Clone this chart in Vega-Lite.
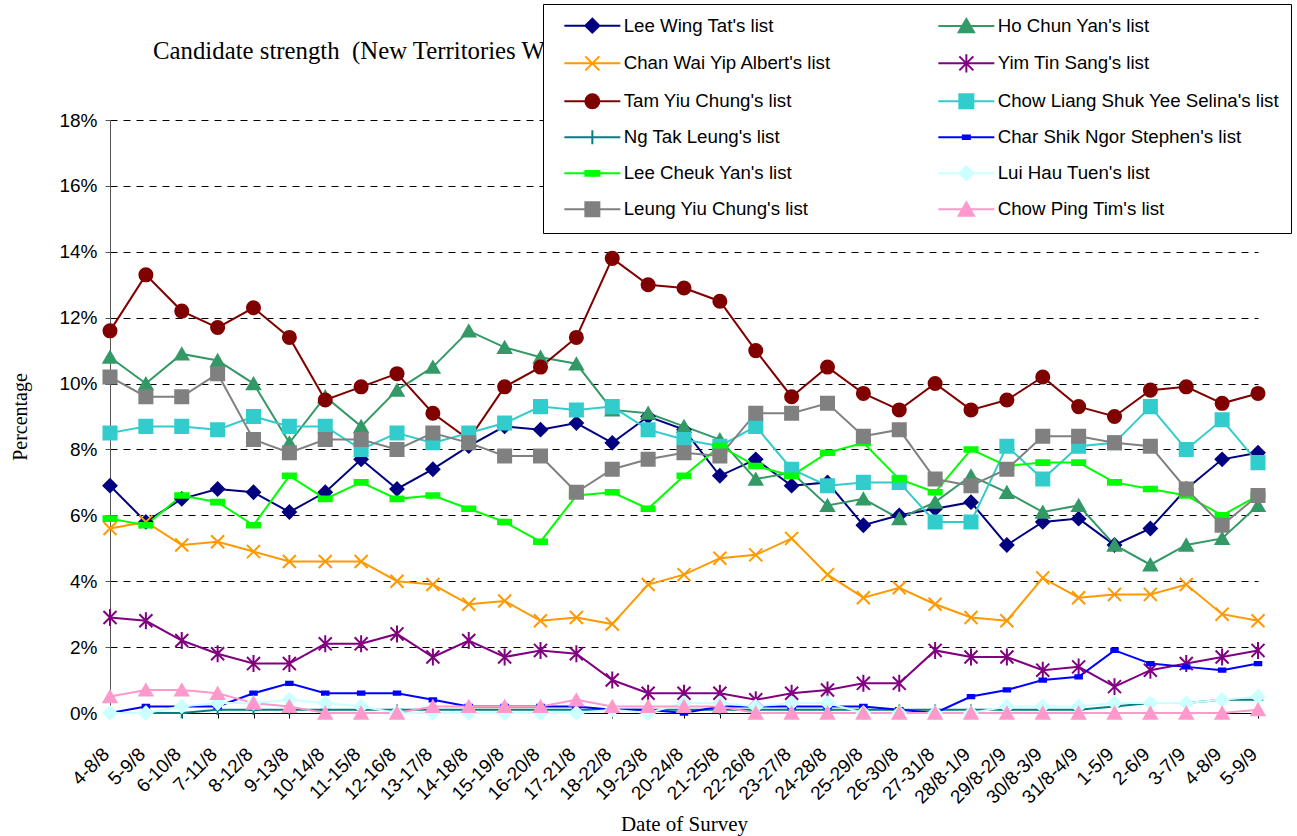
{
"$schema":"https://vega.github.io/schema/vega-lite/v6.json",
"autosize":{"type":"none"},
"width":1148,"height":593,
"padding":{"left":110,"top":120,"right":39,"bottom":123},
"background":"white",
"config":{"view":{"stroke":null}},
"title":{"text":"Candidate strength \u00a0(New Territories West)","anchor":"start","dx":43,"dy":64,"font":"Liberation Serif","fontSize":24.8,"fontWeight":"normal","color":"black","zindex":0,"frame":"group"},
"data":{"values":[
{"d":"4-8/8","s":"Lee Wing Tat's list","v":6.9},{"d":"5-9/8","s":"Lee Wing Tat's list","v":5.8},{"d":"6-10/8","s":"Lee Wing Tat's list","v":6.5},{"d":"7-11/8","s":"Lee Wing Tat's list","v":6.8},{"d":"8-12/8","s":"Lee Wing Tat's list","v":6.7},{"d":"9-13/8","s":"Lee Wing Tat's list","v":6.1},{"d":"10-14/8","s":"Lee Wing Tat's list","v":6.7},{"d":"11-15/8","s":"Lee Wing Tat's list","v":7.7},{"d":"12-16/8","s":"Lee Wing Tat's list","v":6.8},{"d":"13-17/8","s":"Lee Wing Tat's list","v":7.4},{"d":"14-18/8","s":"Lee Wing Tat's list","v":8.1},{"d":"15-19/8","s":"Lee Wing Tat's list","v":8.7},{"d":"16-20/8","s":"Lee Wing Tat's list","v":8.6},{"d":"17-21/8","s":"Lee Wing Tat's list","v":8.8},{"d":"18-22/8","s":"Lee Wing Tat's list","v":8.2},{"d":"19-23/8","s":"Lee Wing Tat's list","v":9.0},{"d":"20-24/8","s":"Lee Wing Tat's list","v":8.6},{"d":"21-25/8","s":"Lee Wing Tat's list","v":7.2},{"d":"22-26/8","s":"Lee Wing Tat's list","v":7.7},{"d":"23-27/8","s":"Lee Wing Tat's list","v":6.9},{"d":"24-28/8","s":"Lee Wing Tat's list","v":7.0},{"d":"25-29/8","s":"Lee Wing Tat's list","v":5.7},{"d":"26-30/8","s":"Lee Wing Tat's list","v":6.0},{"d":"27-31/8","s":"Lee Wing Tat's list","v":6.2},{"d":"28/8-1/9","s":"Lee Wing Tat's list","v":6.4},{"d":"29/8-2/9","s":"Lee Wing Tat's list","v":5.1},{"d":"30/8-3/9","s":"Lee Wing Tat's list","v":5.8},{"d":"31/8-4/9","s":"Lee Wing Tat's list","v":5.9},{"d":"1-5/9","s":"Lee Wing Tat's list","v":5.1},{"d":"2-6/9","s":"Lee Wing Tat's list","v":5.6},{"d":"3-7/9","s":"Lee Wing Tat's list","v":6.8},{"d":"4-8/9","s":"Lee Wing Tat's list","v":7.7},{"d":"5-9/9","s":"Lee Wing Tat's list","v":7.9},
{"d":"4-8/8","s":"Ho Chun Yan's list","v":10.8},{"d":"5-9/8","s":"Ho Chun Yan's list","v":10.0},{"d":"6-10/8","s":"Ho Chun Yan's list","v":10.9},{"d":"7-11/8","s":"Ho Chun Yan's list","v":10.7},{"d":"8-12/8","s":"Ho Chun Yan's list","v":10.0},{"d":"9-13/8","s":"Ho Chun Yan's list","v":8.2},{"d":"10-14/8","s":"Ho Chun Yan's list","v":9.6},{"d":"11-15/8","s":"Ho Chun Yan's list","v":8.7},{"d":"12-16/8","s":"Ho Chun Yan's list","v":9.8},{"d":"13-17/8","s":"Ho Chun Yan's list","v":10.5},{"d":"14-18/8","s":"Ho Chun Yan's list","v":11.6},{"d":"15-19/8","s":"Ho Chun Yan's list","v":11.1},{"d":"16-20/8","s":"Ho Chun Yan's list","v":10.8},{"d":"17-21/8","s":"Ho Chun Yan's list","v":10.6},{"d":"18-22/8","s":"Ho Chun Yan's list","v":9.2},{"d":"19-23/8","s":"Ho Chun Yan's list","v":9.1},{"d":"20-24/8","s":"Ho Chun Yan's list","v":8.7},{"d":"21-25/8","s":"Ho Chun Yan's list","v":8.3},{"d":"22-26/8","s":"Ho Chun Yan's list","v":7.1},{"d":"23-27/8","s":"Ho Chun Yan's list","v":7.3},{"d":"24-28/8","s":"Ho Chun Yan's list","v":6.3},{"d":"25-29/8","s":"Ho Chun Yan's list","v":6.5},{"d":"26-30/8","s":"Ho Chun Yan's list","v":5.9},{"d":"27-31/8","s":"Ho Chun Yan's list","v":6.4},{"d":"28/8-1/9","s":"Ho Chun Yan's list","v":7.2},{"d":"29/8-2/9","s":"Ho Chun Yan's list","v":6.7},{"d":"30/8-3/9","s":"Ho Chun Yan's list","v":6.1},{"d":"31/8-4/9","s":"Ho Chun Yan's list","v":6.3},{"d":"1-5/9","s":"Ho Chun Yan's list","v":5.1},{"d":"2-6/9","s":"Ho Chun Yan's list","v":4.5},{"d":"3-7/9","s":"Ho Chun Yan's list","v":5.1},{"d":"4-8/9","s":"Ho Chun Yan's list","v":5.3},{"d":"5-9/9","s":"Ho Chun Yan's list","v":6.3},
{"d":"4-8/8","s":"Chan Wai Yip Albert's list","v":5.6},{"d":"5-9/8","s":"Chan Wai Yip Albert's list","v":5.8},{"d":"6-10/8","s":"Chan Wai Yip Albert's list","v":5.1},{"d":"7-11/8","s":"Chan Wai Yip Albert's list","v":5.2},{"d":"8-12/8","s":"Chan Wai Yip Albert's list","v":4.9},{"d":"9-13/8","s":"Chan Wai Yip Albert's list","v":4.6},{"d":"10-14/8","s":"Chan Wai Yip Albert's list","v":4.6},{"d":"11-15/8","s":"Chan Wai Yip Albert's list","v":4.6},{"d":"12-16/8","s":"Chan Wai Yip Albert's list","v":4.0},{"d":"13-17/8","s":"Chan Wai Yip Albert's list","v":3.9},{"d":"14-18/8","s":"Chan Wai Yip Albert's list","v":3.3},{"d":"15-19/8","s":"Chan Wai Yip Albert's list","v":3.4},{"d":"16-20/8","s":"Chan Wai Yip Albert's list","v":2.8},{"d":"17-21/8","s":"Chan Wai Yip Albert's list","v":2.9},{"d":"18-22/8","s":"Chan Wai Yip Albert's list","v":2.7},{"d":"19-23/8","s":"Chan Wai Yip Albert's list","v":3.9},{"d":"20-24/8","s":"Chan Wai Yip Albert's list","v":4.2},{"d":"21-25/8","s":"Chan Wai Yip Albert's list","v":4.7},{"d":"22-26/8","s":"Chan Wai Yip Albert's list","v":4.8},{"d":"23-27/8","s":"Chan Wai Yip Albert's list","v":5.3},{"d":"24-28/8","s":"Chan Wai Yip Albert's list","v":4.2},{"d":"25-29/8","s":"Chan Wai Yip Albert's list","v":3.5},{"d":"26-30/8","s":"Chan Wai Yip Albert's list","v":3.8},{"d":"27-31/8","s":"Chan Wai Yip Albert's list","v":3.3},{"d":"28/8-1/9","s":"Chan Wai Yip Albert's list","v":2.9},{"d":"29/8-2/9","s":"Chan Wai Yip Albert's list","v":2.8},{"d":"30/8-3/9","s":"Chan Wai Yip Albert's list","v":4.1},{"d":"31/8-4/9","s":"Chan Wai Yip Albert's list","v":3.5},{"d":"1-5/9","s":"Chan Wai Yip Albert's list","v":3.6},{"d":"2-6/9","s":"Chan Wai Yip Albert's list","v":3.6},{"d":"3-7/9","s":"Chan Wai Yip Albert's list","v":3.9},{"d":"4-8/9","s":"Chan Wai Yip Albert's list","v":3.0},{"d":"5-9/9","s":"Chan Wai Yip Albert's list","v":2.8},
{"d":"4-8/8","s":"Yim Tin Sang's list","v":2.9},{"d":"5-9/8","s":"Yim Tin Sang's list","v":2.8},{"d":"6-10/8","s":"Yim Tin Sang's list","v":2.2},{"d":"7-11/8","s":"Yim Tin Sang's list","v":1.8},{"d":"8-12/8","s":"Yim Tin Sang's list","v":1.5},{"d":"9-13/8","s":"Yim Tin Sang's list","v":1.5},{"d":"10-14/8","s":"Yim Tin Sang's list","v":2.1},{"d":"11-15/8","s":"Yim Tin Sang's list","v":2.1},{"d":"12-16/8","s":"Yim Tin Sang's list","v":2.4},{"d":"13-17/8","s":"Yim Tin Sang's list","v":1.7},{"d":"14-18/8","s":"Yim Tin Sang's list","v":2.2},{"d":"15-19/8","s":"Yim Tin Sang's list","v":1.7},{"d":"16-20/8","s":"Yim Tin Sang's list","v":1.9},{"d":"17-21/8","s":"Yim Tin Sang's list","v":1.8},{"d":"18-22/8","s":"Yim Tin Sang's list","v":1.0},{"d":"19-23/8","s":"Yim Tin Sang's list","v":0.6},{"d":"20-24/8","s":"Yim Tin Sang's list","v":0.6},{"d":"21-25/8","s":"Yim Tin Sang's list","v":0.6},{"d":"22-26/8","s":"Yim Tin Sang's list","v":0.4},{"d":"23-27/8","s":"Yim Tin Sang's list","v":0.6},{"d":"24-28/8","s":"Yim Tin Sang's list","v":0.7},{"d":"25-29/8","s":"Yim Tin Sang's list","v":0.9},{"d":"26-30/8","s":"Yim Tin Sang's list","v":0.9},{"d":"27-31/8","s":"Yim Tin Sang's list","v":1.9},{"d":"28/8-1/9","s":"Yim Tin Sang's list","v":1.7},{"d":"29/8-2/9","s":"Yim Tin Sang's list","v":1.7},{"d":"30/8-3/9","s":"Yim Tin Sang's list","v":1.3},{"d":"31/8-4/9","s":"Yim Tin Sang's list","v":1.4},{"d":"1-5/9","s":"Yim Tin Sang's list","v":0.8},{"d":"2-6/9","s":"Yim Tin Sang's list","v":1.3},{"d":"3-7/9","s":"Yim Tin Sang's list","v":1.5},{"d":"4-8/9","s":"Yim Tin Sang's list","v":1.7},{"d":"5-9/9","s":"Yim Tin Sang's list","v":1.9},
{"d":"4-8/8","s":"Tam Yiu Chung's list","v":11.6},{"d":"5-9/8","s":"Tam Yiu Chung's list","v":13.3},{"d":"6-10/8","s":"Tam Yiu Chung's list","v":12.2},{"d":"7-11/8","s":"Tam Yiu Chung's list","v":11.7},{"d":"8-12/8","s":"Tam Yiu Chung's list","v":12.3},{"d":"9-13/8","s":"Tam Yiu Chung's list","v":11.4},{"d":"10-14/8","s":"Tam Yiu Chung's list","v":9.5},{"d":"11-15/8","s":"Tam Yiu Chung's list","v":9.9},{"d":"12-16/8","s":"Tam Yiu Chung's list","v":10.3},{"d":"13-17/8","s":"Tam Yiu Chung's list","v":9.1},{"d":"14-18/8","s":"Tam Yiu Chung's list","v":8.3},{"d":"15-19/8","s":"Tam Yiu Chung's list","v":9.9},{"d":"16-20/8","s":"Tam Yiu Chung's list","v":10.5},{"d":"17-21/8","s":"Tam Yiu Chung's list","v":11.4},{"d":"18-22/8","s":"Tam Yiu Chung's list","v":13.8},{"d":"19-23/8","s":"Tam Yiu Chung's list","v":13.0},{"d":"20-24/8","s":"Tam Yiu Chung's list","v":12.9},{"d":"21-25/8","s":"Tam Yiu Chung's list","v":12.5},{"d":"22-26/8","s":"Tam Yiu Chung's list","v":11.0},{"d":"23-27/8","s":"Tam Yiu Chung's list","v":9.6},{"d":"24-28/8","s":"Tam Yiu Chung's list","v":10.5},{"d":"25-29/8","s":"Tam Yiu Chung's list","v":9.7},{"d":"26-30/8","s":"Tam Yiu Chung's list","v":9.2},{"d":"27-31/8","s":"Tam Yiu Chung's list","v":10.0},{"d":"28/8-1/9","s":"Tam Yiu Chung's list","v":9.2},{"d":"29/8-2/9","s":"Tam Yiu Chung's list","v":9.5},{"d":"30/8-3/9","s":"Tam Yiu Chung's list","v":10.2},{"d":"31/8-4/9","s":"Tam Yiu Chung's list","v":9.3},{"d":"1-5/9","s":"Tam Yiu Chung's list","v":9.0},{"d":"2-6/9","s":"Tam Yiu Chung's list","v":9.8},{"d":"3-7/9","s":"Tam Yiu Chung's list","v":9.9},{"d":"4-8/9","s":"Tam Yiu Chung's list","v":9.4},{"d":"5-9/9","s":"Tam Yiu Chung's list","v":9.7},
{"d":"4-8/8","s":"Chow Liang Shuk Yee Selina's list","v":8.5},{"d":"5-9/8","s":"Chow Liang Shuk Yee Selina's list","v":8.7},{"d":"6-10/8","s":"Chow Liang Shuk Yee Selina's list","v":8.7},{"d":"7-11/8","s":"Chow Liang Shuk Yee Selina's list","v":8.6},{"d":"8-12/8","s":"Chow Liang Shuk Yee Selina's list","v":9.0},{"d":"9-13/8","s":"Chow Liang Shuk Yee Selina's list","v":8.7},{"d":"10-14/8","s":"Chow Liang Shuk Yee Selina's list","v":8.7},{"d":"11-15/8","s":"Chow Liang Shuk Yee Selina's list","v":8.0},{"d":"12-16/8","s":"Chow Liang Shuk Yee Selina's list","v":8.5},{"d":"13-17/8","s":"Chow Liang Shuk Yee Selina's list","v":8.2},{"d":"14-18/8","s":"Chow Liang Shuk Yee Selina's list","v":8.5},{"d":"15-19/8","s":"Chow Liang Shuk Yee Selina's list","v":8.8},{"d":"16-20/8","s":"Chow Liang Shuk Yee Selina's list","v":9.3},{"d":"17-21/8","s":"Chow Liang Shuk Yee Selina's list","v":9.2},{"d":"18-22/8","s":"Chow Liang Shuk Yee Selina's list","v":9.3},{"d":"19-23/8","s":"Chow Liang Shuk Yee Selina's list","v":8.6},{"d":"20-24/8","s":"Chow Liang Shuk Yee Selina's list","v":8.3},{"d":"21-25/8","s":"Chow Liang Shuk Yee Selina's list","v":8.1},{"d":"22-26/8","s":"Chow Liang Shuk Yee Selina's list","v":8.7},{"d":"23-27/8","s":"Chow Liang Shuk Yee Selina's list","v":7.4},{"d":"24-28/8","s":"Chow Liang Shuk Yee Selina's list","v":6.9},{"d":"25-29/8","s":"Chow Liang Shuk Yee Selina's list","v":7.0},{"d":"26-30/8","s":"Chow Liang Shuk Yee Selina's list","v":7.0},{"d":"27-31/8","s":"Chow Liang Shuk Yee Selina's list","v":5.8},{"d":"28/8-1/9","s":"Chow Liang Shuk Yee Selina's list","v":5.8},{"d":"29/8-2/9","s":"Chow Liang Shuk Yee Selina's list","v":8.1},{"d":"30/8-3/9","s":"Chow Liang Shuk Yee Selina's list","v":7.1},{"d":"31/8-4/9","s":"Chow Liang Shuk Yee Selina's list","v":8.1},{"d":"1-5/9","s":"Chow Liang Shuk Yee Selina's list","v":8.2},{"d":"2-6/9","s":"Chow Liang Shuk Yee Selina's list","v":9.3},{"d":"3-7/9","s":"Chow Liang Shuk Yee Selina's list","v":8.0},{"d":"4-8/9","s":"Chow Liang Shuk Yee Selina's list","v":8.9},{"d":"5-9/9","s":"Chow Liang Shuk Yee Selina's list","v":7.6},
{"d":"4-8/8","s":"Ng Tak Leung's list","v":0},{"d":"5-9/8","s":"Ng Tak Leung's list","v":0},{"d":"6-10/8","s":"Ng Tak Leung's list","v":0},{"d":"7-11/8","s":"Ng Tak Leung's list","v":0.1},{"d":"8-12/8","s":"Ng Tak Leung's list","v":0.1},{"d":"9-13/8","s":"Ng Tak Leung's list","v":0.1},{"d":"10-14/8","s":"Ng Tak Leung's list","v":0.1},{"d":"11-15/8","s":"Ng Tak Leung's list","v":0.1},{"d":"12-16/8","s":"Ng Tak Leung's list","v":0.1},{"d":"13-17/8","s":"Ng Tak Leung's list","v":0.1},{"d":"14-18/8","s":"Ng Tak Leung's list","v":0.1},{"d":"15-19/8","s":"Ng Tak Leung's list","v":0.1},{"d":"16-20/8","s":"Ng Tak Leung's list","v":0.1},{"d":"17-21/8","s":"Ng Tak Leung's list","v":0.1},{"d":"18-22/8","s":"Ng Tak Leung's list","v":0.1},{"d":"19-23/8","s":"Ng Tak Leung's list","v":0.1},{"d":"20-24/8","s":"Ng Tak Leung's list","v":0.1},{"d":"21-25/8","s":"Ng Tak Leung's list","v":0.1},{"d":"22-26/8","s":"Ng Tak Leung's list","v":0.1},{"d":"23-27/8","s":"Ng Tak Leung's list","v":0.1},{"d":"24-28/8","s":"Ng Tak Leung's list","v":0.1},{"d":"25-29/8","s":"Ng Tak Leung's list","v":0.1},{"d":"26-30/8","s":"Ng Tak Leung's list","v":0.1},{"d":"27-31/8","s":"Ng Tak Leung's list","v":0.1},{"d":"28/8-1/9","s":"Ng Tak Leung's list","v":0.1},{"d":"29/8-2/9","s":"Ng Tak Leung's list","v":0.1},{"d":"30/8-3/9","s":"Ng Tak Leung's list","v":0.1},{"d":"31/8-4/9","s":"Ng Tak Leung's list","v":0.1},{"d":"1-5/9","s":"Ng Tak Leung's list","v":0.2},{"d":"2-6/9","s":"Ng Tak Leung's list","v":0.3},{"d":"3-7/9","s":"Ng Tak Leung's list","v":0.3},{"d":"4-8/9","s":"Ng Tak Leung's list","v":0.4},{"d":"5-9/9","s":"Ng Tak Leung's list","v":0.4},
{"d":"4-8/8","s":"Char Shik Ngor Stephen's list","v":0},{"d":"5-9/8","s":"Char Shik Ngor Stephen's list","v":0.2},{"d":"6-10/8","s":"Char Shik Ngor Stephen's list","v":0.2},{"d":"7-11/8","s":"Char Shik Ngor Stephen's list","v":0.2},{"d":"8-12/8","s":"Char Shik Ngor Stephen's list","v":0.6},{"d":"9-13/8","s":"Char Shik Ngor Stephen's list","v":0.9},{"d":"10-14/8","s":"Char Shik Ngor Stephen's list","v":0.6},{"d":"11-15/8","s":"Char Shik Ngor Stephen's list","v":0.6},{"d":"12-16/8","s":"Char Shik Ngor Stephen's list","v":0.6},{"d":"13-17/8","s":"Char Shik Ngor Stephen's list","v":0.4},{"d":"14-18/8","s":"Char Shik Ngor Stephen's list","v":0.2},{"d":"15-19/8","s":"Char Shik Ngor Stephen's list","v":0.2},{"d":"16-20/8","s":"Char Shik Ngor Stephen's list","v":0.2},{"d":"17-21/8","s":"Char Shik Ngor Stephen's list","v":0.2},{"d":"18-22/8","s":"Char Shik Ngor Stephen's list","v":0.1},{"d":"19-23/8","s":"Char Shik Ngor Stephen's list","v":0.1},{"d":"20-24/8","s":"Char Shik Ngor Stephen's list","v":0},{"d":"21-25/8","s":"Char Shik Ngor Stephen's list","v":0.2},{"d":"22-26/8","s":"Char Shik Ngor Stephen's list","v":0.2},{"d":"23-27/8","s":"Char Shik Ngor Stephen's list","v":0.2},{"d":"24-28/8","s":"Char Shik Ngor Stephen's list","v":0.2},{"d":"25-29/8","s":"Char Shik Ngor Stephen's list","v":0.2},{"d":"26-30/8","s":"Char Shik Ngor Stephen's list","v":0.1},{"d":"27-31/8","s":"Char Shik Ngor Stephen's list","v":0},{"d":"28/8-1/9","s":"Char Shik Ngor Stephen's list","v":0.5},{"d":"29/8-2/9","s":"Char Shik Ngor Stephen's list","v":0.7},{"d":"30/8-3/9","s":"Char Shik Ngor Stephen's list","v":1.0},{"d":"31/8-4/9","s":"Char Shik Ngor Stephen's list","v":1.1},{"d":"1-5/9","s":"Char Shik Ngor Stephen's list","v":1.9},{"d":"2-6/9","s":"Char Shik Ngor Stephen's list","v":1.5},{"d":"3-7/9","s":"Char Shik Ngor Stephen's list","v":1.4},{"d":"4-8/9","s":"Char Shik Ngor Stephen's list","v":1.3},{"d":"5-9/9","s":"Char Shik Ngor Stephen's list","v":1.5},
{"d":"4-8/8","s":"Lee Cheuk Yan's list","v":5.9},{"d":"5-9/8","s":"Lee Cheuk Yan's list","v":5.7},{"d":"6-10/8","s":"Lee Cheuk Yan's list","v":6.6},{"d":"7-11/8","s":"Lee Cheuk Yan's list","v":6.4},{"d":"8-12/8","s":"Lee Cheuk Yan's list","v":5.7},{"d":"9-13/8","s":"Lee Cheuk Yan's list","v":7.2},{"d":"10-14/8","s":"Lee Cheuk Yan's list","v":6.5},{"d":"11-15/8","s":"Lee Cheuk Yan's list","v":7.0},{"d":"12-16/8","s":"Lee Cheuk Yan's list","v":6.5},{"d":"13-17/8","s":"Lee Cheuk Yan's list","v":6.6},{"d":"14-18/8","s":"Lee Cheuk Yan's list","v":6.2},{"d":"15-19/8","s":"Lee Cheuk Yan's list","v":5.8},{"d":"16-20/8","s":"Lee Cheuk Yan's list","v":5.2},{"d":"17-21/8","s":"Lee Cheuk Yan's list","v":6.6},{"d":"18-22/8","s":"Lee Cheuk Yan's list","v":6.7},{"d":"19-23/8","s":"Lee Cheuk Yan's list","v":6.2},{"d":"20-24/8","s":"Lee Cheuk Yan's list","v":7.2},{"d":"21-25/8","s":"Lee Cheuk Yan's list","v":8.1},{"d":"22-26/8","s":"Lee Cheuk Yan's list","v":7.5},{"d":"23-27/8","s":"Lee Cheuk Yan's list","v":7.2},{"d":"24-28/8","s":"Lee Cheuk Yan's list","v":7.9},{"d":"25-29/8","s":"Lee Cheuk Yan's list","v":8.2},{"d":"26-30/8","s":"Lee Cheuk Yan's list","v":7.1},{"d":"27-31/8","s":"Lee Cheuk Yan's list","v":6.7},{"d":"28/8-1/9","s":"Lee Cheuk Yan's list","v":8.0},{"d":"29/8-2/9","s":"Lee Cheuk Yan's list","v":7.5},{"d":"30/8-3/9","s":"Lee Cheuk Yan's list","v":7.6},{"d":"31/8-4/9","s":"Lee Cheuk Yan's list","v":7.6},{"d":"1-5/9","s":"Lee Cheuk Yan's list","v":7.0},{"d":"2-6/9","s":"Lee Cheuk Yan's list","v":6.8},{"d":"3-7/9","s":"Lee Cheuk Yan's list","v":6.6},{"d":"4-8/9","s":"Lee Cheuk Yan's list","v":6.0},{"d":"5-9/9","s":"Lee Cheuk Yan's list","v":6.6},
{"d":"4-8/8","s":"Lui Hau Tuen's list","v":0},{"d":"5-9/8","s":"Lui Hau Tuen's list","v":0},{"d":"6-10/8","s":"Lui Hau Tuen's list","v":0.2},{"d":"7-11/8","s":"Lui Hau Tuen's list","v":0.3},{"d":"8-12/8","s":"Lui Hau Tuen's list","v":0.3},{"d":"9-13/8","s":"Lui Hau Tuen's list","v":0.4},{"d":"10-14/8","s":"Lui Hau Tuen's list","v":0.3},{"d":"11-15/8","s":"Lui Hau Tuen's list","v":0.2},{"d":"12-16/8","s":"Lui Hau Tuen's list","v":0},{"d":"13-17/8","s":"Lui Hau Tuen's list","v":0},{"d":"14-18/8","s":"Lui Hau Tuen's list","v":0},{"d":"15-19/8","s":"Lui Hau Tuen's list","v":0},{"d":"16-20/8","s":"Lui Hau Tuen's list","v":0},{"d":"17-21/8","s":"Lui Hau Tuen's list","v":0},{"d":"18-22/8","s":"Lui Hau Tuen's list","v":0.1},{"d":"19-23/8","s":"Lui Hau Tuen's list","v":0},{"d":"20-24/8","s":"Lui Hau Tuen's list","v":0.3},{"d":"21-25/8","s":"Lui Hau Tuen's list","v":0.3},{"d":"22-26/8","s":"Lui Hau Tuen's list","v":0.2},{"d":"23-27/8","s":"Lui Hau Tuen's list","v":0.3},{"d":"24-28/8","s":"Lui Hau Tuen's list","v":0.3},{"d":"25-29/8","s":"Lui Hau Tuen's list","v":0},{"d":"26-30/8","s":"Lui Hau Tuen's list","v":0},{"d":"27-31/8","s":"Lui Hau Tuen's list","v":0},{"d":"28/8-1/9","s":"Lui Hau Tuen's list","v":0},{"d":"29/8-2/9","s":"Lui Hau Tuen's list","v":0.2},{"d":"30/8-3/9","s":"Lui Hau Tuen's list","v":0.2},{"d":"31/8-4/9","s":"Lui Hau Tuen's list","v":0.2},{"d":"1-5/9","s":"Lui Hau Tuen's list","v":0.3},{"d":"2-6/9","s":"Lui Hau Tuen's list","v":0.3},{"d":"3-7/9","s":"Lui Hau Tuen's list","v":0.3},{"d":"4-8/9","s":"Lui Hau Tuen's list","v":0.4},{"d":"5-9/9","s":"Lui Hau Tuen's list","v":0.5},
{"d":"4-8/8","s":"Leung Yiu Chung's list","v":10.2},{"d":"5-9/8","s":"Leung Yiu Chung's list","v":9.6},{"d":"6-10/8","s":"Leung Yiu Chung's list","v":9.6},{"d":"7-11/8","s":"Leung Yiu Chung's list","v":10.3},{"d":"8-12/8","s":"Leung Yiu Chung's list","v":8.3},{"d":"9-13/8","s":"Leung Yiu Chung's list","v":7.9},{"d":"10-14/8","s":"Leung Yiu Chung's list","v":8.3},{"d":"11-15/8","s":"Leung Yiu Chung's list","v":8.3},{"d":"12-16/8","s":"Leung Yiu Chung's list","v":8.0},{"d":"13-17/8","s":"Leung Yiu Chung's list","v":8.5},{"d":"14-18/8","s":"Leung Yiu Chung's list","v":8.2},{"d":"15-19/8","s":"Leung Yiu Chung's list","v":7.8},{"d":"16-20/8","s":"Leung Yiu Chung's list","v":7.8},{"d":"17-21/8","s":"Leung Yiu Chung's list","v":6.7},{"d":"18-22/8","s":"Leung Yiu Chung's list","v":7.4},{"d":"19-23/8","s":"Leung Yiu Chung's list","v":7.7},{"d":"20-24/8","s":"Leung Yiu Chung's list","v":7.9},{"d":"21-25/8","s":"Leung Yiu Chung's list","v":7.8},{"d":"22-26/8","s":"Leung Yiu Chung's list","v":9.1},{"d":"23-27/8","s":"Leung Yiu Chung's list","v":9.1},{"d":"24-28/8","s":"Leung Yiu Chung's list","v":9.4},{"d":"25-29/8","s":"Leung Yiu Chung's list","v":8.4},{"d":"26-30/8","s":"Leung Yiu Chung's list","v":8.6},{"d":"27-31/8","s":"Leung Yiu Chung's list","v":7.1},{"d":"28/8-1/9","s":"Leung Yiu Chung's list","v":6.9},{"d":"29/8-2/9","s":"Leung Yiu Chung's list","v":7.4},{"d":"30/8-3/9","s":"Leung Yiu Chung's list","v":8.4},{"d":"31/8-4/9","s":"Leung Yiu Chung's list","v":8.4},{"d":"1-5/9","s":"Leung Yiu Chung's list","v":8.2},{"d":"2-6/9","s":"Leung Yiu Chung's list","v":8.1},{"d":"3-7/9","s":"Leung Yiu Chung's list","v":6.8},{"d":"4-8/9","s":"Leung Yiu Chung's list","v":5.7},{"d":"5-9/9","s":"Leung Yiu Chung's list","v":6.6},
{"d":"4-8/8","s":"Chow Ping Tim's list","v":0.5},{"d":"5-9/8","s":"Chow Ping Tim's list","v":0.7},{"d":"6-10/8","s":"Chow Ping Tim's list","v":0.7},{"d":"7-11/8","s":"Chow Ping Tim's list","v":0.6},{"d":"8-12/8","s":"Chow Ping Tim's list","v":0.3},{"d":"9-13/8","s":"Chow Ping Tim's list","v":0.2},{"d":"10-14/8","s":"Chow Ping Tim's list","v":0},{"d":"11-15/8","s":"Chow Ping Tim's list","v":0},{"d":"12-16/8","s":"Chow Ping Tim's list","v":0},{"d":"13-17/8","s":"Chow Ping Tim's list","v":0.2},{"d":"14-18/8","s":"Chow Ping Tim's list","v":0.2},{"d":"15-19/8","s":"Chow Ping Tim's list","v":0.2},{"d":"16-20/8","s":"Chow Ping Tim's list","v":0.2},{"d":"17-21/8","s":"Chow Ping Tim's list","v":0.4},{"d":"18-22/8","s":"Chow Ping Tim's list","v":0.2},{"d":"19-23/8","s":"Chow Ping Tim's list","v":0.2},{"d":"20-24/8","s":"Chow Ping Tim's list","v":0.2},{"d":"21-25/8","s":"Chow Ping Tim's list","v":0.2},{"d":"22-26/8","s":"Chow Ping Tim's list","v":0},{"d":"23-27/8","s":"Chow Ping Tim's list","v":0},{"d":"24-28/8","s":"Chow Ping Tim's list","v":0},{"d":"25-29/8","s":"Chow Ping Tim's list","v":0},{"d":"26-30/8","s":"Chow Ping Tim's list","v":0},{"d":"27-31/8","s":"Chow Ping Tim's list","v":0},{"d":"28/8-1/9","s":"Chow Ping Tim's list","v":0},{"d":"29/8-2/9","s":"Chow Ping Tim's list","v":0},{"d":"30/8-3/9","s":"Chow Ping Tim's list","v":0},{"d":"31/8-4/9","s":"Chow Ping Tim's list","v":0},{"d":"1-5/9","s":"Chow Ping Tim's list","v":0},{"d":"2-6/9","s":"Chow Ping Tim's list","v":0},{"d":"3-7/9","s":"Chow Ping Tim's list","v":0},{"d":"4-8/9","s":"Chow Ping Tim's list","v":0},{"d":"5-9/9","s":"Chow Ping Tim's list","v":0.1}
]},
"encoding":{
"x":{"field":"d","type":"ordinal","scale":{"type":"point","padding":0,"domain":["4-8/8","5-9/8","6-10/8","7-11/8","8-12/8","9-13/8","10-14/8","11-15/8","12-16/8","13-17/8","14-18/8","15-19/8","16-20/8","17-21/8","18-22/8","19-23/8","20-24/8","21-25/8","22-26/8","23-27/8","24-28/8","25-29/8","26-30/8","27-31/8","28/8-1/9","29/8-2/9","30/8-3/9","31/8-4/9","1-5/9","2-6/9","3-7/9","4-8/9","5-9/9"]},
 "axis":{"title":"Date of Survey","titleFont":"Liberation Serif","titleFontSize":21,"titleFontWeight":"normal","titleColor":"black","titlePadding":6,"labelAngle":-45,"labelAlign":"right","labelBaseline":"alphabetic","labelFont":"Liberation Sans","labelFontSize":19,"labelColor":"black","labelPadding":37,"domainColor":"black","domainWidth":1,"tickColor":"black","tickSize":5,"grid":false}},
"y":{"field":"v","type":"quantitative","scale":{"domain":[0,18],"nice":false,"zero":true},
 "axis":{"title":"Percentage","titleFont":"Liberation Serif","titleFontSize":20,"titleFontWeight":"normal","titleColor":"black","titlePadding":28,"values":[0,2,4,6,8,10,12,14,16,18],"labelExpr":"datum.value + '%'","labelFont":"Liberation Sans","labelFontSize":19,"labelColor":"black","labelPadding":8,"domainColor":"#555555","tickColor":"#555555","tickSize":5,"grid":true,"gridColor":"black","gridDash":[7,6],"gridWidth":1}}
},
"layer":[
{"mark":{"type":"line","strokeWidth":2},
 "encoding":{"color":{"field":"s","type":"nominal","scale":{"domain":["Lee Wing Tat's list","Chan Wai Yip Albert's list","Tam Yiu Chung's list","Ng Tak Leung's list","Lee Cheuk Yan's list","Leung Yiu Chung's list","Ho Chun Yan's list","Yim Tin Sang's list","Chow Liang Shuk Yee Selina's list","Char Shik Ngor Stephen's list","Lui Hau Tuen's list","Chow Ping Tim's list"],"range":["#000080","#FF9900","#800000","#008080","#00FF00","#808080","#339966","#800080","#33CCCC","#0000FF","#CCFFFF","#FF99CC"]},
  "legend":{"orient":"none","legendX":433,"legendY":-116,"columns":2,"title":null,"labelFont":"Liberation Sans","labelFontSize":18.7,"labelColor":"black","labelLimit":400,"symbolSize":196,"symbolStrokeWidth":2,"symbolOpacity":1,"padding":12,"strokeColor":"black","fillColor":"white","rowPadding":13,"columnPadding":97,"symbolOffset":28,"labelOffset":22,"zindex":1,
   "encode":{"symbols":{"update":{"shape":{"signal":"['M-4,0H4M0,-1L1,0L0,1L-1,0Z','M-4,0H4M-1,-1L1,1M-1,1L1,-1','M-4,0H4M1,0A1,1,0,1,1,-1,0A1,1,0,1,1,1,0Z','M-4,0H4M0,-1V1','M-4,0H4M-1,-0.35H1V0.35H-1Z','M-4,0H4M-1,-1H1V1H-1Z','M-4,0H4M0,-1L1.1,0.9L-1.1,0.9Z','M-4,0H4M-1,-1L1,1M-1,1L1,-1M0,-1.3V1.3','M-4,0H4M-1,-1H1V1H-1Z','M-4,0H4M-0.5,-0.25H0.5V0.25H-0.5Z','M-4,0H4M0,-1L1,0L0,1L-1,0Z','M-4,0H4M0,-1L1.1,0.9L-1.1,0.9Z'][indexof(domain('color'), datum.value)]"},"fill":{"signal":"scale('color', datum.value)"},"stroke":{"signal":"scale('color', datum.value)"}}}}}}}},
{"mark":{"type":"point","filled":true,"size":170,"strokeWidth":2,"opacity":1},
 "encoding":{
  "color":{"field":"s","type":"nominal"},
  "stroke":{"field":"s","type":"nominal","legend":null,"scale":{"domain":["Chow Ping Tim's list","Lui Hau Tuen's list","Char Shik Ngor Stephen's list","Chow Liang Shuk Yee Selina's list","Yim Tin Sang's list","Ho Chun Yan's list","Leung Yiu Chung's list","Lee Cheuk Yan's list","Ng Tak Leung's list","Tam Yiu Chung's list","Chan Wai Yip Albert's list","Lee Wing Tat's list"],"range":["#FF99CC","#CCFFFF","#0000FF","#33CCCC","#800080","#339966","#808080","#00FF00","#008080","#800000","#FF9900","#000080"]}},
  "shape":{"field":"s","type":"nominal","legend":null,"scale":{"domain":["Chow Ping Tim's list","Lui Hau Tuen's list","Char Shik Ngor Stephen's list","Chow Liang Shuk Yee Selina's list","Yim Tin Sang's list","Ho Chun Yan's list","Leung Yiu Chung's list","Lee Cheuk Yan's list","Ng Tak Leung's list","Tam Yiu Chung's list","Chan Wai Yip Albert's list","Lee Wing Tat's list"],"range":["triangle-up","diamond","M-0.5,-0.25H0.5V0.25H-0.5Z","square","M-1,-1L1,1M-1,1L1,-1M0,-1.3V1.3","triangle-up","square","M-1,-0.35H1V0.35H-1Z","M-0.8,0H0.8M0,-0.8V0.8","circle","M-1,-1L1,1M-1,1L1,-1","diamond"]}}
 }}
]
}
